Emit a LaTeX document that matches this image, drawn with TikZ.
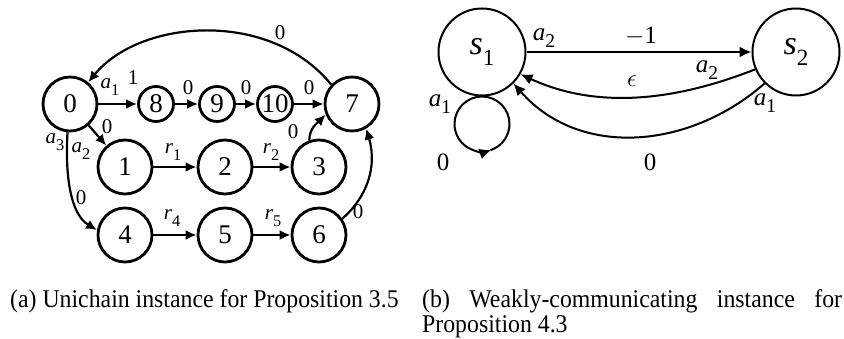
\documentclass[tikz,border=0pt]{standalone}
\usepackage{fontspec}
\usepackage{graphicx}
\setmainfont{Liberation Serif}
\usetikzlibrary{arrows.meta}
\newcommand{\isub}[3][0.78]{\textit{#2}\raisebox{-0.3em}{\scalebox{#1}{#3}}}
\begin{document}
\begin{tikzpicture}[x=1pt,y=1pt,
  lnode/.style={circle,draw,line width=2.8pt,minimum size=54pt,inner sep=0pt,font=\fontsize{27}{30}\selectfont},
  snode/.style={lnode,minimum size=35pt},
  ledge/.style={line width=2.2pt,-{Latex[length=11pt,width=10pt]}},
  llab/.style={inner sep=0pt,font=\fontsize{21}{24}\selectfont},
  rnode/.style={circle,draw,line width=2pt,minimum size=87pt,inner sep=0pt,font=\fontsize{34}{37}\selectfont},
  redge/.style={line width=2pt,-{Latex[length=12pt,width=11pt]}},
  rline/.style={line width=2pt},
  rlab/.style={inner sep=0pt,font=\fontsize{25}{28}\selectfont},
  captext/.style={inner sep=0pt,font=\fontsize{25.5}{28}\selectfont}
]
\useasboundingbox (0,0) rectangle (844,339);

% ---- left diagram ----
\node[lnode] (n0) at (70,235) {0};
\node[snode] (n8) at (156,235) {8};
\node[snode] (n9) at (217,235) {9};
\node[snode] (n10) at (275,235) {10};
\node[lnode] (n7) at (352,235) {7};
\node[lnode] (n1) at (125,172) {1};
\node[lnode] (n2) at (225,172) {2};
\node[lnode] (n3) at (319,172) {3};
\node[lnode] (n4) at (125,104) {4};
\node[lnode] (n5) at (225,104) {5};
\node[lnode] (n6) at (319,104) {6};

\draw[ledge] (n0) -- (n8);
\draw[ledge] (n8) -- (n9);
\draw[ledge] (n9) -- (n10);
\draw[ledge] (n10) -- (n7);
\draw[ledge] (n7.137) .. controls (270,330) and (140,320) .. (n0.50);
\draw[ledge] (n0) -- (n1);
\draw[ledge] (n0.265) .. controls (65,165) and (70,125) .. (n4.170);
\draw[ledge] (n1) -- (n2);
\draw[ledge] (n2) -- (n3);
\draw[ledge] (n4) -- (n5);
\draw[ledge] (n5) -- (n6);
\draw[ledge] (n3.110) to[out=90,in=225] (n7.202);
\draw[ledge] (n6.35) .. controls (365,140) and (378,170) .. (n7.-60);

\node[llab] (l01) at (110,252) {\isub{a}{1}};
\node[llab] (l02) at (133,261) {1};
\node[llab] (l03) at (188,251) {0};
\node[llab] (l04) at (246,251) {0};
\node[llab] (l05) at (309,251) {0};
\node[llab] (l06) at (280,306) {0};
\node[llab] (l07) at (107,212) {0};
\node[llab] (l08) at (81,188) {\isub{a}{2}};
\node[llab] (l09) at (55,197) {\isub{a}{3}};
\node[llab] (l10) at (81,141) {0};
\node[llab] (l11) at (173,187) {\isub{r}{1}};
\node[llab] (l12) at (271,187) {\isub{r}{2}};
\node[llab] (l13) at (172,121) {\isub{r}{4}};
\node[llab] (l14) at (273,121) {\isub{r}{5}};
\node[llab] (l15) at (293,207) {0};
\node[llab] (l16) at (358,127) {0};

% ---- right diagram ----
\node[rnode] (s1) at (482,287) {\isub[0.68]{s}{1}};
\node[rnode] (s2) at (796,287) {\isub[0.68]{s}{2}};

\draw[redge] (s1) -- (s2);
\draw[redge] (s2.203) .. controls (680,240) and (600,228) .. (s1.-30);
\draw[redge] (s2.225) .. controls (690,190) and (580,180) .. (s1.-45);
\draw[redge] (s1.south) arc[start angle=90, end angle=290, radius=27.5pt];
\draw[rline] (s1.south) arc[start angle=90, end angle=-72, radius=27.5pt];

\node[rlab] (r1) at (544,301) {\isub{a}{2}};
\node[rlab] (r2) at (641,303) {$-$1};
\node[rlab] (r3) at (707,269) {\isub{a}{2}};
\node[rlab,font=\fontsize{31}{33}\selectfont] (r4) at (632,258) {$\epsilon$};
\node[rlab] (r5) at (765,236) {\isub{a}{1}};
\node[rlab] (r6) at (650,177) {0};
\node[rlab] (r7) at (440,235) {\isub{a}{1}};
\node[rlab] (r8) at (443,177) {0};

% ---- captions ----
\node[captext, anchor=base west] (ca) at (10,31) {\scalebox{0.933}[1]{(a) Unichain instance for Proposition 3.5}};
\node[captext, anchor=base west] (cb1) at (422,31) {\scalebox{0.933}[1]{\hbox to 450pt{(b)\hfill Weakly-communicating\hfill instance\hfill for}}};
\node[captext, anchor=base west] (cb2) at (422,6) {\scalebox{0.933}[1]{Proposition 4.3}};
\end{tikzpicture}
\end{document}
